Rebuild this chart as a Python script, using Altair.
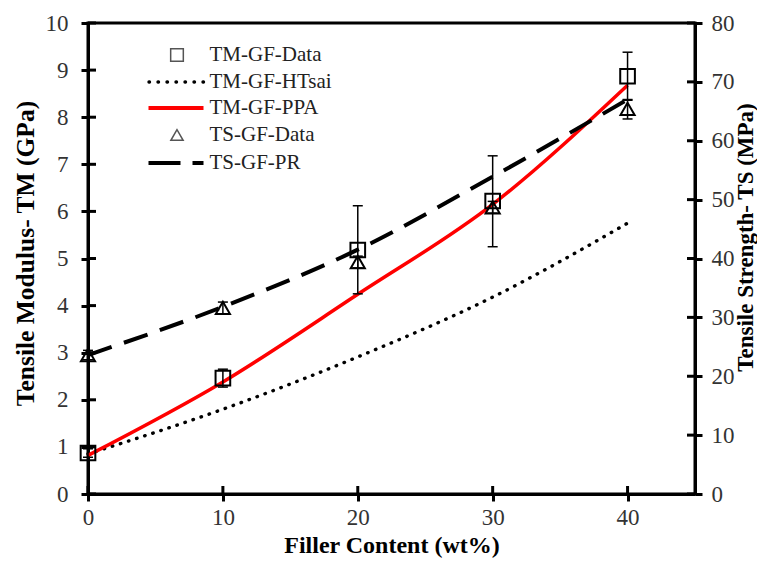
import altair as alt
import pandas as pd

# ---- data ----
filler = [0, 10, 20, 30, 40]
tm_data = [0.87, 2.46, 5.18, 6.22, 8.87]
tm_err_lo = [0.78, 2.27, 4.25, 5.25, 8.36]
tm_err_hi = [0.96, 2.65, 6.12, 7.18, 9.38]
ts_data = [23.6, 31.6, 39.4, 48.7, 65.4]
ts_err_lo = [22.8, 30.6, 38.4, 47.7, 63.7]
ts_err_hi = [24.4, 32.6, 40.4, 49.7, 67.0]
tm_ppa = [0.82, 2.38, 4.24, 6.15, 8.68]
tm_htsai = [0.85, 1.80, 2.91, 4.18, 5.75]
ts_pr = [23.6, 31.8, 41.5, 53.9, 67.0]
left_ticks = list(range(0, 11))
right_ticks = list(range(0, 81, 10))
x_ticks = [0, 10, 20, 30, 40]
legend_labels = ["TM-GF-Data", "TM-GF-HTsai", "TM-GF-PPA", "TS-GF-Data", "TS-GF-PR"]

W, H = 607, 471
FONT = "Liberation Serif"

df = pd.DataFrame({
    "x": filler, "tm": tm_data, "tm_lo": tm_err_lo, "tm_hi": tm_err_hi,
    "ts": ts_data, "ts_lo": ts_err_lo, "ts_hi": ts_err_hi,
    "ppa": tm_ppa, "htsai": tm_htsai, "pr": ts_pr,
})
lt = pd.DataFrame({"v": left_ticks})
rt = pd.DataFrame({"v": right_ticks})
xt = pd.DataFrame({"v": x_ticks})

xscale = alt.Scale(domain=[0, 45], nice=False, zero=False)
lscale = alt.Scale(domain=[0, 10], nice=False)
rscale = alt.Scale(domain=[0, 80], nice=False)

common_axis = dict(
    domainWidth=3, domainColor="black", tickWidth=3, tickSize=7, tickColor="black",
    labelFont=FONT, labelFontSize=23, labelColor="#333", grid=False, labelFlush=False,
    labelOverlap=False,
    titleFont=FONT, titleFontWeight="bold", titleColor="black",
)

xaxis = alt.Axis(values=x_ticks, labelPadding=5, title="Filler Content (wt%)",
                 titleY=58, titleBaseline="alphabetic", titleFontSize=24, **common_axis)
laxis = alt.Axis(values=left_ticks, labelPadding=13, title="Tensile Modulus- TM (GPa)",
                 titleX=-63, titleY=230, titleAngle=-90, titleAlign="center",
                 titleBaseline="middle", orient="left", titleFontSize=25.5, **common_axis)
raxis = alt.Axis(values=right_ticks, orient="right", labelPadding=9,
                 title="Tensile Strength- TS (MPa)", titleX=50.5, titleY=214, titleAngle=-90,
                 titleAlign="center", titleBaseline="middle", titleFontSize=23, **common_axis)


def XX(f="x:Q"):
    return alt.X(f, scale=xscale, axis=xaxis)


def YL(f):
    return alt.Y(f, scale=lscale, axis=laxis)


def YR(f):
    return alt.Y(f, scale=rscale, axis=raxis)


base = alt.Chart(df)

htsai = base.mark_line(color="black", strokeWidth=3.4, strokeDash=[0.5, 8], strokeCap="round",
                       interpolate="monotone").encode(x=XX(), y=YL("htsai:Q"))
ppa = base.mark_line(color="#ff0000", strokeWidth=3.5, interpolate="monotone").encode(
    x=XX(), y=YL("ppa:Q"))
tm_bar = base.mark_rule(color="black", strokeWidth=1.5).encode(
    x=XX(), y=YL("tm_lo:Q"), y2="tm_hi:Q")
tm_cap_lo = base.mark_rule(color="black", strokeWidth=1.5, xOffset=-5, x2Offset=5).encode(
    x=XX(), x2="x:Q", y=YL("tm_lo:Q"))
tm_cap_hi = base.mark_rule(color="black", strokeWidth=1.5, xOffset=-5, x2Offset=5).encode(
    x=XX(), x2="x:Q", y=YL("tm_hi:Q"))
tm_pts = base.mark_point(shape="square", size=215, filled=False, color="black",
                         strokeWidth=2, opacity=1).encode(x=XX(), y=YL("tm:Q"))
left_inner = alt.Chart(lt).mark_rule(color="black", strokeWidth=3).encode(
    y=YL("v:Q"), x=alt.value(0), x2=alt.value(8))
x_inner = alt.Chart(xt).mark_rule(color="black", strokeWidth=3).encode(
    x=XX("v:Q"), y=alt.value(H - 8), y2=alt.value(H))

# legend (manual, pixel positions)
leg_rows = [32, 59, 85, 112, 140]
leg_layers = []
one = pd.DataFrame({"a": [0]})
leg_layers.append(alt.Chart(one).mark_point(shape="square", size=160, filled=False,
                                            color="#555", strokeWidth=1.5, opacity=1).encode(
    x=alt.value(89), y=alt.value(leg_rows[0])))
leg_layers.append(alt.Chart(one).mark_rule(color="black", strokeWidth=3.4, strokeDash=[0.5, 8.5],
                                           strokeCap="round").encode(
    x=alt.value(61), x2=alt.value(116), y=alt.value(leg_rows[1])))
leg_layers.append(alt.Chart(one).mark_rule(color="#ff0000", strokeWidth=4).encode(
    x=alt.value(60.5), x2=alt.value(115.5), y=alt.value(leg_rows[2])))
leg_layers.append(alt.Chart(one).mark_point(shape="triangle-up", size=150, filled=False,
                                            color="#555", strokeWidth=1.5, opacity=1).encode(
    x=alt.value(89), y=alt.value(leg_rows[3])))
leg_layers.append(alt.Chart(one).mark_rule(color="black", strokeWidth=4, strokeDash=[32, 12]).encode(
    x=alt.value(60.5), x2=alt.value(115.5), y=alt.value(leg_rows[4])))
for lab, yy in zip(legend_labels, leg_rows):
    leg_layers.append(alt.Chart(pd.DataFrame({"t": [lab]})).mark_text(
        font=FONT, fontSize=21, align="left", baseline="middle", color="#222").encode(
        x=alt.value(121.5), y=alt.value(yy), text="t:N"))

left = alt.layer(htsai, ppa, tm_bar, tm_cap_lo, tm_cap_hi, tm_pts, left_inner, x_inner, *leg_layers)

# right axis group
pr = base.mark_line(color="black", strokeWidth=4, strokeDash=[25, 13], interpolate="monotone").encode(
    x=XX(), y=YR("pr:Q"))
ts_bar = base.mark_rule(color="black", strokeWidth=1.5).encode(
    x=XX(), y=YR("ts_lo:Q"), y2="ts_hi:Q")
ts_cap_lo = base.mark_rule(color="black", strokeWidth=1.5, xOffset=-5, x2Offset=5).encode(
    x=XX(), x2="x:Q", y=YR("ts_lo:Q"))
ts_cap_hi = base.mark_rule(color="black", strokeWidth=1.5, xOffset=-5, x2Offset=5).encode(
    x=XX(), x2="x:Q", y=YR("ts_hi:Q"))
ts_pts = base.mark_point(shape="triangle-up", size=200, filled=False, color="black",
                         strokeWidth=2, opacity=1).encode(x=XX(), y=YR("ts:Q"))
right_inner = alt.Chart(rt).mark_rule(color="black", strokeWidth=3).encode(
    y=YR("v:Q"), x=alt.value(W - 8), x2=alt.value(W))

right = alt.layer(pr, ts_bar, ts_cap_lo, ts_cap_hi, ts_pts, right_inner)

chart = alt.layer(left, right).resolve_scale(y="independent").properties(
    width=W, height=H,
    autosize=alt.AutoSizeParams(type="none"),
    padding={"left": 80, "top": 15, "right": 62, "bottom": 64},
    background="white",
).configure_view(stroke="black", strokeWidth=3)

chart.save("out.html", embed_options={"renderer": "svg", "actions": False})
